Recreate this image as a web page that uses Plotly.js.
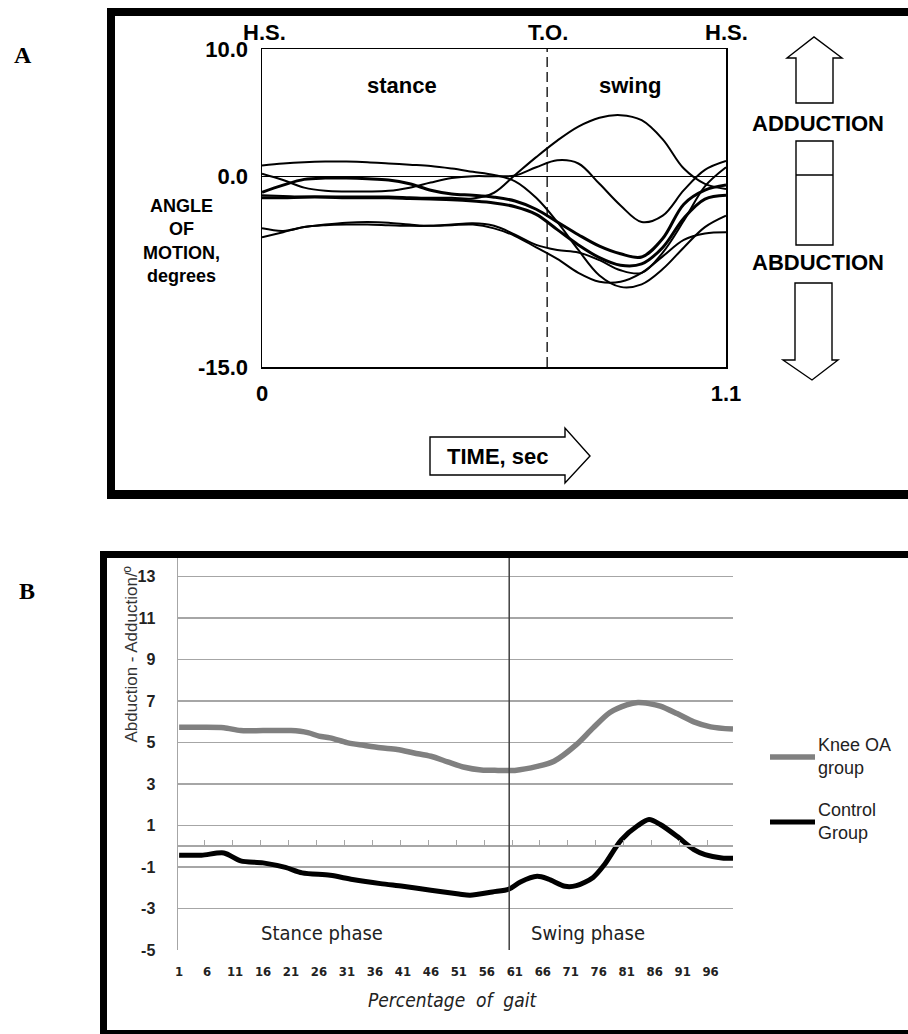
<!DOCTYPE html>
<html>
<head>
<meta charset="utf-8">
<script src="https://cdn.plot.ly/plotly-3.0.1.min.js"></script>
<style>html,body{margin:0;padding:0;background:#fff;}#chart{width:908px;height:1034px;}</style>
</head>
<body>
<div id="chart"></div>
<script>
// ---------------- Panel A data (time, sec ; angle, degrees) ----------------
const timeA = [0, 0.05, 0.1, 0.15, 0.2, 0.25, 0.3, 0.35, 0.4, 0.45, 0.5, 0.55, 0.6, 0.65, 0.7, 0.75, 0.8, 0.85, 0.9, 0.95, 1.0, 1.05, 1.1];
const curveA1 = [0.85, 1.0, 1.1, 1.15, 1.15, 1.1, 1.0, 0.9, 0.8, 0.6, 0.35, 0.1, -0.4, -1.7, -3.6, -5.8, -7.8, -8.7, -8.5, -7.3, -5.6, -4.0, -3.1];
const curveA2 = [0.2, -0.3, -0.9, -1.15, -1.2, -1.2, -1.15, -0.9, -0.5, -0.15, 0.0, 0.0, 0.05, 0.7, 1.25, 1.0, -0.6, -2.3, -3.6, -3.1, -1.1, 0.5, 1.2];
const curveA3 = [-1.26, -0.7, -0.25, -0.15, -0.15, -0.2, -0.3, -0.6, -1.1, -1.4, -1.5, -1.65, -1.95, -2.6, -3.6, -4.6, -5.5, -6.1, -6.35, -4.9, -2.2, -1.1, -0.7];
const curveA4 = [-1.5, -1.55, -1.6, -1.6, -1.6, -1.6, -1.6, -1.65, -1.7, -1.7, -1.75, -1.3, 0.1, 1.5, 2.8, 3.9, 4.6, 4.8, 4.4, 2.9, 0.6, -0.6, -1.0];
const curveA5 = [-1.7, -1.7, -1.65, -1.65, -1.7, -1.7, -1.7, -1.75, -1.8, -1.85, -1.95, -2.1, -2.4, -3.0, -4.2, -5.4, -6.4, -7.0, -6.9, -5.6, -3.3, -1.8, -1.5];
const curveA6 = [-4.1, -4.3, -4.0, -3.8, -3.65, -3.6, -3.65, -3.8, -3.9, -3.8, -3.7, -3.9, -4.6, -5.4, -5.8, -6.0, -6.6, -7.4, -7.6, -6.0, -3.5, -0.8, 0.7];
const curveA7 = [-4.8, -4.4, -4.0, -3.85, -3.8, -3.8, -3.85, -3.9, -3.9, -3.85, -3.8, -4.1, -4.7, -5.6, -6.5, -7.6, -8.3, -8.3, -7.6, -6.3, -5.0, -4.5, -4.4];
const curvesA = [curveA1, curveA2, curveA3, curveA4, curveA5, curveA6, curveA7];
const curveWidthsA = [2, 2, 3, 2, 3, 2, 2];
const toeOffA = 0.676;
const yTicksA = [10, 0, -15];
const yTickTextA = ['10.0', '0.0', '-15.0'];
const xTicksA = [0, 1.1];
const xTickTextA = ['0', '1.1'];

// ---------------- Panel B data (% of gait ; degrees) ----------------
const seriesNames = ['Knee OA group', 'Control Group'];
const gaitOA = [1, 5, 9, 12, 16, 21, 24, 26, 28, 31, 34, 37, 40, 43, 46, 49, 52, 55, 58, 61, 65, 68, 72, 75, 78, 81, 83, 85, 87, 90, 93, 96, 100];
const kneeOA = [5.74, 5.74, 5.72, 5.58, 5.58, 5.58, 5.48, 5.31, 5.23, 5.0, 4.87, 4.75, 4.67, 4.5, 4.34, 4.07, 3.81, 3.68, 3.66, 3.66, 3.85, 4.1, 4.9, 5.71, 6.45, 6.82, 6.93, 6.88, 6.76, 6.4, 6.0, 5.76, 5.65];
const gaitCtrl = [1, 5, 9, 12, 16, 20, 23, 28, 32, 37, 41, 46, 51, 53, 57, 60, 62, 65, 67, 70, 72, 75, 77, 80, 83, 85, 87, 90, 93, 95, 98, 100];
const control = [-0.43, -0.43, -0.32, -0.7, -0.8, -1.02, -1.28, -1.4, -1.6, -1.8, -1.93, -2.12, -2.3, -2.36, -2.2, -2.06, -1.72, -1.45, -1.58, -1.93, -1.9, -1.5, -0.89, 0.3, 1.0, 1.29, 1.05, 0.48, -0.16, -0.4, -0.56, -0.58];
const xTicksB = [1, 6, 11, 16, 21, 26, 31, 36, 41, 46, 51, 56, 61, 66, 71, 76, 81, 86, 91, 96];
const yTicksB = [-5, -3, -1, 1, 3, 5, 7, 9, 11, 13];
const toeOffB = 60;

// ---------------- helpers (pixel -> paper) ----------------
const W = 908, H = 1034;
const px = x => x / W;
const py = y => 1 - y / H;
const pathOf = pts => 'M' + pts.map(p => px(p[0]).toFixed(5) + ',' + py(p[1]).toFixed(5)).join(' L') + ' Z';
const boldA = {family: 'Liberation Sans, Arial, sans-serif', size: 22, color: '#000', weight: 'bold'};
const narrow = 'Liberation Sans Narrow, DejaVu Sans Condensed, Arial Narrow, Liberation Sans, sans-serif';

const traces = [];
curvesA.forEach((c, i) => {
  traces.push({x: timeA, y: c, xaxis: 'x', yaxis: 'y', type: 'scatter', mode: 'lines',
    line: {color: '#000', width: curveWidthsA[i], shape: 'spline', smoothing: 1}, showlegend: false, hoverinfo: 'skip'});
});
traces.push({x: gaitOA, y: kneeOA, name: seriesNames[0], xaxis: 'x2', yaxis: 'y2', type: 'scatter', mode: 'lines',
  line: {color: '#808080', width: 5.5, shape: 'spline', smoothing: 0.8}, showlegend: false});
traces.push({x: gaitCtrl, y: control, name: seriesNames[1], xaxis: 'x2', yaxis: 'y2', type: 'scatter', mode: 'lines',
  line: {color: '#000', width: 5, shape: 'spline', smoothing: 0.8}, showlegend: false});
// carrier for the zero-axis tick line of panel B
traces.push({x: [1], y: [null], xaxis: 'x3', yaxis: 'y2', type: 'scatter', mode: 'lines', showlegend: false, hoverinfo: 'skip'});

const shapes = [];
const rect = (x0, y0, x1, y1) => shapes.push({type: 'rect', xref: 'paper', yref: 'paper', x0: px(x0), x1: px(x1), y0: py(y1), y1: py(y0), fillcolor: '#000', line: {width: 0}, layer: 'above'});
// panel A frame
rect(107, 8, 908, 16); rect(107, 8, 115, 499); rect(107, 490, 908, 499);
// panel B frame
rect(100, 551, 908, 558); rect(100, 551, 107, 1034); rect(100, 1030, 908, 1034);
// T.O. dashed line
shapes.push({type: 'line', xref: 'x', yref: 'y domain', x0: toeOffA, x1: toeOffA, y0: 0, y1: 1, line: {color: '#000', width: 1.3, dash: '10px,5px'}});
// arrows panel A
const arrowLine = {color: '#000', width: 1.4};
shapes.push({type: 'path', xref: 'paper', yref: 'paper', path: pathOf([[796,103],[796,58],[787,58],[814,37],[842,58],[833,58],[833,103]]), line: arrowLine, fillcolor: '#fff'});
shapes.push({type: 'path', xref: 'paper', yref: 'paper', path: pathOf([[796,141],[833,141],[833,245],[796,245]]), line: arrowLine, fillcolor: '#fff'});
shapes.push({type: 'line', xref: 'paper', yref: 'paper', x0: px(796), x1: px(833), y0: py(175), y1: py(175), line: arrowLine});
shapes.push({type: 'path', xref: 'paper', yref: 'paper', path: pathOf([[795,283],[832,283],[832,360],[838,360],[812,380],[783,360],[795,360]]), line: arrowLine, fillcolor: '#fff'});
shapes.push({type: 'path', xref: 'paper', yref: 'paper', path: pathOf([[430,437],[565,437],[565,428],[590,456],[565,483],[565,475],[430,475]]), line: arrowLine, fillcolor: '#fff'});
// panel B toe-off divider
shapes.push({type: 'line', xref: 'x2', yref: 'y2 domain', x0: toeOffB, x1: toeOffB, y0: 0, y1: 1, line: {color: '#404040', width: 1.5}});
// panel B legend lines
shapes.push({type: 'line', xref: 'paper', yref: 'paper', x0: px(770), x1: px(815), y0: py(757), y1: py(757), line: {color: '#808080', width: 5.5}});
shapes.push({type: 'line', xref: 'paper', yref: 'paper', x0: px(770), x1: px(815), y0: py(822), y1: py(822), line: {color: '#000', width: 5}});

const ann = [];
const addA = (text, x, y, extra) => ann.push(Object.assign({text, xref: 'paper', yref: 'paper', x: px(x), y: py(y), showarrow: false, xanchor: 'center', yanchor: 'middle', font: boldA}, extra || {}));
const serifBold = {family: 'Liberation Serif, Times New Roman, serif', size: 24, weight: 'bold', color: '#000'};
const labelFont = {family: 'Liberation Sans, Arial, sans-serif', size: 18, color: '#000', weight: 'bold'};
addA('A', 23, 55, {font: serifBold});
addA('B', 27, 591, {font: serifBold});
addA('H.S.', 264, 33);
addA('T.O.', 548, 33);
addA('H.S.', 726, 33);
addA('stance', 402, 85);
addA('swing', 630, 85);
addA('ANGLE<br>OF<br>MOTION,<br>degrees', 181, 241, {font: labelFont});
addA('ADDUCTION', 818, 123);
addA('ABDUCTION', 818, 263);
addA('TIME, sec', 497, 456);
// panel B texts
const txtB = {family: narrow, size: 20, color: '#222'};
ann.push({text: 'Stance phase', xref: 'x2', yref: 'y2', x: 26.5, y: -4.2, showarrow: false, font: txtB});
ann.push({text: 'Swing phase', xref: 'x2', yref: 'y2', x: 74, y: -4.2, showarrow: false, font: txtB});
ann.push({text: 'Abduction - Adduction/º', xref: 'paper', yref: 'paper', x: px(119), y: py(655), textangle: -90, showarrow: false, font: {family: 'Liberation Sans, Arial, sans-serif', size: 17, color: '#333'}});
ann.push({text: 'Percentage  of  gait', xref: 'paper', yref: 'paper', x: px(452), y: py(1013), showarrow: false, font: {family: narrow, size: 19, color: '#222', style: 'italic'}});
const legFont = {family: 'Liberation Sans, Arial, sans-serif', size: 18, color: '#222'};
ann.push({text: 'Knee OA', xref: 'paper', yref: 'paper', x: px(816), y: py(757), xanchor: 'left', showarrow: false, font: legFont});
ann.push({text: 'group', xref: 'paper', yref: 'paper', x: px(816), y: py(780), xanchor: 'left', showarrow: false, font: legFont});
ann.push({text: 'Control', xref: 'paper', yref: 'paper', x: px(816), y: py(822), xanchor: 'left', showarrow: false, font: legFont});
ann.push({text: 'Group', xref: 'paper', yref: 'paper', x: px(816), y: py(845), xanchor: 'left', showarrow: false, font: legFont});

const layout = {
  width: W, height: H,
  margin: {l: 0, r: 0, t: 0, b: 0},
  paper_bgcolor: '#fff', plot_bgcolor: 'rgba(0,0,0,0)',
  showlegend: false,
  xaxis: {domain: [px(262), px(726)], range: [0, 1.1], anchor: 'y', showgrid: false, zeroline: false,
    showline: true, mirror: true, linecolor: '#000', linewidth: 1.5,
    tickmode: 'array', tickvals: xTicksA, ticktext: xTickTextA, ticks: '', ticklabelstandoff: 6, tickfont: boldA},
  yaxis: {domain: [py(367), py(49)], range: [-15, 10], anchor: 'x', showgrid: false,
    zeroline: true, zerolinecolor: '#000', zerolinewidth: 1.2,
    showline: true, mirror: true, linecolor: '#000', linewidth: 1.5,
    tickmode: 'array', tickvals: yTicksA, ticktext: yTickTextA, ticks: '', ticklabelstandoff: 8, tickfont: boldA},
  xaxis2: {domain: [px(178), px(733)], range: [0.8, 100], anchor: 'y2', showgrid: false, zeroline: false, showline: false,
    tickmode: 'array', tickvals: xTicksB, ticks: '', ticklabelstandoff: 12,
    tickfont: {family: narrow, size: 13, color: '#222', weight: 'bold'}},
  xaxis3: {domain: [px(178), px(733)], range: [0.8, 100], overlaying: 'x2', anchor: 'free', position: py(845),
    showgrid: false, zeroline: false, showline: true, linecolor: '#a6a6a6', linewidth: 1.5,
    tickmode: 'linear', tick0: 0.5, dtick: 5, ticks: 'inside', ticklen: 5, tickcolor: '#a6a6a6', tickwidth: 1,
    showticklabels: false},
  yaxis2: {domain: [py(950), py(558)], range: [-5, 13.9], anchor: 'x2',
    tickmode: 'array', tickvals: yTicksB, ticktext: yTicksB.map(String), showgrid: true, gridcolor: '#a6a6a6', gridwidth: 1.5,
    zeroline: false, showline: true, linecolor: '#a6a6a6', linewidth: 1.5, ticks: '', ticklabelstandoff: 18,
    tickfont: {family: 'Liberation Sans, Arial, sans-serif', size: 16, color: '#222', weight: 'bold'}},
  shapes: shapes,
  annotations: ann
};

Plotly.newPlot('chart', traces, layout, {staticPlot: true, displayModeBar: false});
</script>
</body>
</html>
